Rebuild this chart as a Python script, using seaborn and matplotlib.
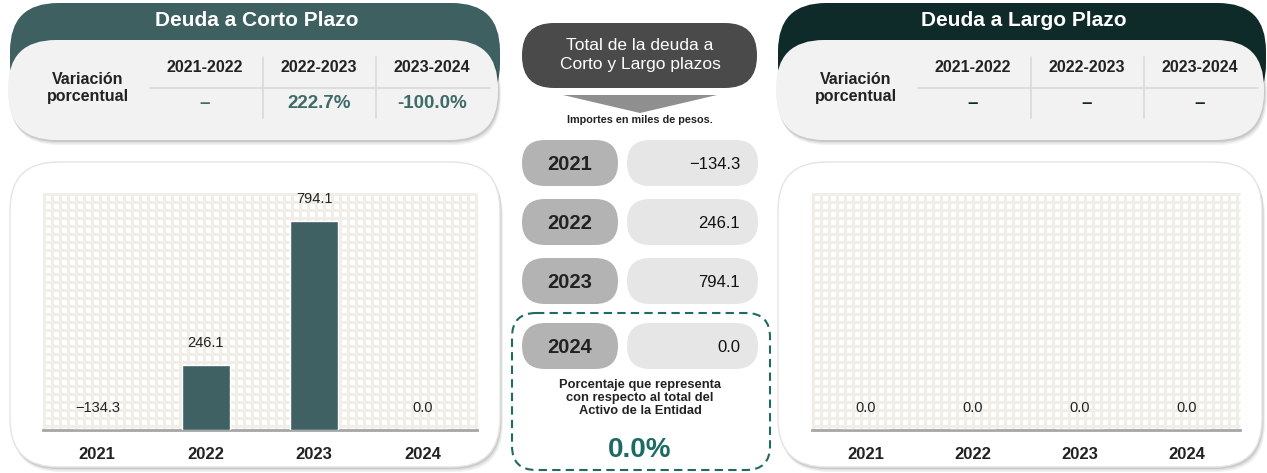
import numpy as np
import pandas as pd
import matplotlib
matplotlib.use('Agg')
import matplotlib.pyplot as plt
import seaborn as sns
from matplotlib.patches import FancyBboxPatch, Polygon
from matplotlib.collections import LineCollection

# datos
years = ['2021', '2022', '2023', '2024']
corto_plazo = [-134.3, 246.1, 794.1, 0.0]
largo_plazo = [0.0, 0.0, 0.0, 0.0]
total_deuda = [-134.3, 246.1, 794.1, 0.0]
periodos = ['2021-2022', '2022-2023', '2023-2024']
var_corto = ['–', '222.7%', '-100.0%']
var_largo = ['–', '–', '–']
porcentaje_activo = '0.0%'

sns.set_theme(style='white')
plt.rcParams['font.family'] = ['Liberation Sans', 'DejaVu Sans']

W, H = 1267, 473
fig = plt.figure(figsize=(W / 100, H / 100), dpi=100)
fig.patch.set_facecolor('white')

# fondo en coordenadas de pixel para las decoraciones
bg = fig.add_axes([0, 0, 1, 1], zorder=0)
bg.set_xlim(0, W)
bg.set_ylim(H, 0)
bg.axis('off')

TEAL = '#3f6163'
DARK = '#0f2b29'
TXT = '#222222'


def rbox(x0, y0, x1, y1, r, fc, ec='none', lw=0, ls='-', z=1, alpha=1.0):
    p = FancyBboxPatch((x0, y0), x1 - x0, y1 - y0,
                       boxstyle=f'round,pad=0,rounding_size={r}',
                       fc=fc, ec=ec, lw=lw, ls=ls, zorder=z, alpha=alpha)
    bg.add_patch(p)
    return p


def shadow(x0, y0, x1, y1, r, z):
    for k, a in [(5, 0.05), (3.5, 0.07), (2, 0.1)]:
        rbox(x0 + k * 0.4, y0 + k, x1 + k * 0.6, y1 + k, r, '#000000', z=z, alpha=a)


def header(x0, x1, color, title, valores, val_color):
    rbox(x0 + 2, 3, x1 + 2, 112, 48, color, z=1)
    shadow(x0, 40, x1, 140, 48, 2)
    rbox(x0, 40, x1, 140, 48, '#f2f2f2', z=3)
    bg.text((x0 + x1) / 2 + 4, 21, title, color='white', fontsize=15,
            fontweight='bold', ha='center', va='center', zorder=5)
    bg.text(x0 + 80, 88, 'Variación\nporcentual', color=TXT, fontsize=11.5,
            fontweight='bold', ha='center', va='center', linespacing=1.25, zorder=5)
    cols = [x0 + 197, x0 + 311, x0 + 424]
    for cx, per, val in zip(cols, periodos, valores):
        bg.text(cx, 68, per, color=TXT, fontsize=11.5, fontweight='bold',
                ha='center', va='center', zorder=5)
        bg.text(cx, 103, val, color=val_color, fontsize=13.5, fontweight='bold',
                ha='center', va='center', zorder=5)
    bg.plot([x0 + 142, x0 + 482], [88, 88], color='#d9d9d9', lw=1.2, zorder=4)
    for sx in [x0 + 255, x0 + 368]:
        bg.plot([sx, sx], [57, 118], color='#d9d9d9', lw=1.2, zorder=4)


header(8, 498, '#3e6061', 'Deuda a Corto Plazo', var_corto, '#3d6b67')
header(776, 1264, DARK, 'Deuda a Largo Plazo', var_largo, DARK)


def panel(x0, x1, gx0, gx1):
    shadow(x0, 162, x1, 467, 48, 1)
    rbox(x0, 162, x1, 467, 48, 'white', ec='#e4e4e4', lw=1, z=2)
    segs = []
    for gx in np.arange(gx0 + 1, gx1, 8):
        segs.append([(gx, 193), (gx, 430)])
    for gy in np.arange(194, 430, 8):
        segs.append([(gx0, gy), (gx1, gy)])
    bg.add_collection(LineCollection(segs, colors='#f1eee8', linewidths=2.2, zorder=3))


panel(10, 500, 43, 477)
panel(778, 1262, 812, 1240)

# bloque central
rbox(522, 23, 757, 88, 32, '#4a4a4a', z=2)
bg.text(640, 55, 'Total de la deuda a\nCorto y Largo plazos', color='white',
        fontsize=12.5, ha='center', va='center', linespacing=1.35, zorder=5)
bg.add_patch(Polygon([(563, 95), (717, 95), (640, 113)], closed=True,
                     fc='#8f8f8f', ec='none', zorder=2))
bg.text(640, 120, 'Importes en miles de pesos.', color=TXT, fontsize=7.8,
        fontweight='bold', ha='center', va='center', zorder=5)

rbox(512, 313, 770, 470, 24, 'none', ec='#1f6b63', lw=1.5, ls=(0, (4, 2.5)), z=2)
row_y = [163, 222, 281, 346]
for yy, yr, val in zip(row_y, years, total_deuda):
    rbox(522, yy - 23, 618, yy + 23, 23, '#b3b3b3', z=3)
    rbox(627, yy - 23, 758, yy + 23, 23, '#e6e6e6', z=3)
    bg.text(570, yy + 1, yr, color=TXT, fontsize=14.5, fontweight='bold',
            ha='center', va='center', zorder=5)
    bg.text(740, yy + 1, f'{val:.1f}'.replace('-', '\u2212'), color='#111111',
            fontsize=12, ha='right', va='center', zorder=5)

bg.text(640, 398, 'Porcentaje que representa\ncon respecto al total del\nActivo de la Entidad',
        color=TXT, fontsize=9.3, fontweight='bold', ha='center', va='center',
        linespacing=1.15, zorder=5)
bg.text(640, 450, porcentaje_activo, color='#1b6b62', fontsize=20,
        fontweight='bold', ha='center', va='center', zorder=5)


def chart(left_px, right_px, values):
    ax = fig.add_axes([left_px / W, (H - 430) / H, (right_px - left_px) / W, 237 / H], zorder=2)
    ax.patch.set_alpha(0)
    df = pd.DataFrame({'year': years, 'value': values})
    sns.barplot(data=df, x='year', y='value', ax=ax, color=TEAL, width=0.44,
                saturation=1, zorder=3)
    ax.set_ylim(0, 900)
    ax.set_xlim(-0.5, 3.5)
    for i, v in enumerate(values):
        ax.annotate(f'{v:.1f}'.replace('-', '\u2212'), (i, max(v, 0)),
                    xytext=(0, 16), textcoords='offset points', ha='center',
                    va='center', fontsize=10.5, color=TXT)
    for s in ['left', 'right', 'top']:
        ax.spines[s].set_visible(False)
    ax.spines['bottom'].set_color('#a6a6a6')
    ax.spines['bottom'].set_linewidth(2)
    ax.set_yticks([])
    ax.set_xlabel('')
    ax.set_ylabel('')
    ax.tick_params(axis='x', length=0, pad=12)
    for lab in ax.get_xticklabels():
        lab.set_fontweight('bold')
        lab.set_fontsize(12)
        lab.set_color(TXT)
    return ax


chart(43, 477, corto_plazo)
chart(812, 1240, largo_plazo)

fig.savefig('out.png', dpi=100)
